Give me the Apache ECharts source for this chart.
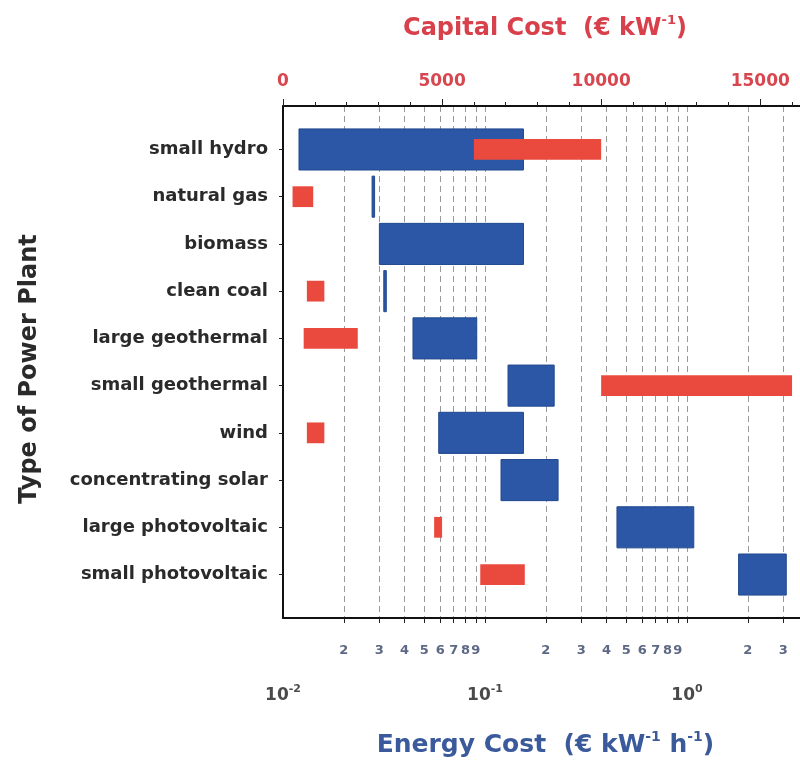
<!DOCTYPE html>
<html>
<head>
<meta charset="utf-8">
<script src="https://cdn.jsdelivr.net/npm/echarts@6/dist/echarts.min.js"></script>
<style>
  html, body { margin: 0; padding: 0; background: #ffffff; }
  #chart { width: 800px; height: 762px; }
</style>
</head>
<body>
<div id="chart"></div>
<script>
// Power plant types, top to bottom
const plants = [
  'small hydro', 'natural gas', 'biomass', 'clean coal', 'large geothermal',
  'small geothermal', 'wind', 'concentrating solar', 'large photovoltaic', 'small photovoltaic'
];

// Energy cost range (€ kW^-1 h^-1), log scale, bottom axis
const energyLow  = [0.012, 0.028, 0.030, 0.032, 0.044, 0.13, 0.059, 0.12, 0.45, 1.8];
const energyHigh = [0.155, 0.028, 0.155, 0.032, 0.091, 0.22, 0.155, 0.23, 1.08, 3.1];

// Capital cost range (€ kW^-1), linear scale, top axis (null = not given)
const capitalLow  = [6000, 300, null, 750, 650, 10000, 750, null, 4750, 6200];
const capitalHigh = [10000, 950, null, 1300, 2350, 16000, 1300, null, 5000, 7600];

// Bottom axis tick positions and labels
const energyTicks = [0.02, 0.03, 0.04, 0.05, 0.06, 0.07, 0.08, 0.09, 0.1,
                     0.2, 0.3, 0.4, 0.5, 0.6, 0.7, 0.8, 0.9, 1, 2, 3];
const energyDigitLabels = [0.02, 0.03, 0.04, 0.05, 0.06, 0.07, 0.08, 0.09,
                           0.2, 0.3, 0.4, 0.5, 0.6, 0.7, 0.8, 0.9, 2, 3];
const energyDecades = [0.01, 0.1, 1];
const rowPositions = [1, 2, 3, 4, 5, 6, 7, 8, 9, 10];

const FONT = 'DejaVu Sans';
const BLUE = '#2b57a6';
const RED = '#ea4a3e';

function leadingDigit(v) {
  const p = Math.pow(10, Math.floor(Math.log10(v) + 1e-9));
  return String(Math.round(v / p));
}

function rangeSeries(name, lows, highs, xAxisIndex, heightFrac, fill, stroke) {
  const data = [];
  lows.forEach((lo, i) => { if (lo != null) data.push([lo, highs[i], i + 1]); });
  return {
    name: name,
    type: 'custom',
    xAxisIndex: xAxisIndex,
    yAxisIndex: 0,
    data: data,
    clip: true,
    encode: { x: [0, 1], y: 2 },
    renderItem: function (params, api) {
      const a = api.coord([api.value(0), api.value(2)]);
      const b = api.coord([api.value(1), api.value(2)]);
      const h = api.size([0, 1], [api.value(0), api.value(2)])[1] * heightFrac;
      let x = a[0];
      let w = b[0] - a[0];
      if (w < 2.5) { x -= 1.25; w = 2.5; }
      return {
        type: 'rect',
        shape: { x: x, y: a[1] - h / 2, width: w, height: h },
        style: { fill: fill, stroke: stroke || null, lineWidth: stroke ? 1 : 0 }
      };
    }
  };
}

const chart = echarts.init(document.getElementById('chart'), null, { renderer: 'canvas' });

const option = {
  animation: false,
  backgroundColor: '#ffffff',
  grid: {
    left: 283, right: 0, top: 106, bottom: 144,
    containLabel: false, outerBoundsMode: 'none'
  },
  xAxis: [
    {
      // energy cost: ticks 2..9 per decade, dashed grid
      type: 'log', logBase: 10, position: 'bottom',
      min: 0.01, max: 3.625,
      axisLine: { show: true, lineStyle: { color: '#111', width: 2 } },
      axisTick: { show: true, customValues: energyTicks, length: 5, lineStyle: { color: '#222', width: 1 } },
      axisLabel: {
        customValues: energyDigitLabels,
        formatter: leadingDigit,
        margin: 26,
        color: '#5c6884', fontFamily: FONT, fontWeight: 'bold', fontSize: 13
      },
      splitLine: { show: true, lineStyle: { color: '#9a9a9a', width: 1, type: [6, 4] } },
      minorTick: { show: false }, minorSplitLine: { show: false }
    },
    {
      // energy cost: decade labels and axis title
      type: 'log', logBase: 10, position: 'bottom',
      min: 0.01, max: 3.625,
      axisLine: { show: false },
      axisTick: { show: false },
      splitLine: { show: false },
      axisLabel: {
        customValues: energyDecades,
        margin: 66,
        formatter: function (v) {
          return '{b|10}{s|' + Math.round(Math.log10(v)) + '}';
        },
        rich: {
          b: { fontFamily: FONT, fontWeight: 'bold', fontSize: 17, color: '#4a4a4a', lineHeight: 24, verticalAlign: 'middle' },
          s: { fontFamily: FONT, fontWeight: 'bold', fontSize: 11, color: '#4a4a4a', lineHeight: 12, verticalAlign: 'top' }
        }
      },
      name: '{t|Energy Cost  (€ kW}{s|-1}{t| h}{s|-1}{t|)}',
      nameLocation: 'middle',
      nameGap: 112,
      nameMoveOverlap: false,
      nameTextStyle: {
        padding: [0, 0, 0, 8],
        rich: {
          t: { fontFamily: FONT, fontWeight: 'bold', fontSize: 25, color: '#3b5a9c', lineHeight: 30, verticalAlign: 'middle' },
          s: { fontFamily: FONT, fontWeight: 'bold', fontSize: 14, color: '#3b5a9c', lineHeight: 14, verticalAlign: 'top' }
        }
      }
    },
    {
      // capital cost: linear, top
      type: 'value', position: 'top',
      min: 0, max: 16250, interval: 5000,
      axisLine: { show: true, lineStyle: { color: '#111', width: 2 } },
      axisTick: { show: true, length: 7, lineStyle: { color: '#222', width: 1 } },
      minorTick: { show: true, splitNumber: 5, length: 4, lineStyle: { color: '#222', width: 1 } },
      splitLine: { show: false },
      minorSplitLine: { show: false },
      axisLabel: {
        margin: 16, showMaxLabel: false,
        formatter: function (v) { return String(v); },
        color: '#d8464f', fontFamily: FONT, fontWeight: 'bold', fontSize: 17
      },
      name: '{t|Capital Cost  (€ kW}{s|-1}{t|)}',
      nameLocation: 'middle',
      nameGap: 62,
      nameMoveOverlap: false,
      nameTextStyle: {
        padding: [0, 0, 0, 7],
        rich: {
          t: { fontFamily: FONT, fontWeight: 'bold', fontSize: 24, color: '#d8404b', lineHeight: 30, verticalAlign: 'middle' },
          s: { fontFamily: FONT, fontWeight: 'bold', fontSize: 13, color: '#d8404b', lineHeight: 14, verticalAlign: 'top' }
        }
      }
    }
  ],
  yAxis: [
    {
      type: 'value', inverse: true,
      min: 0.08, max: 10.92,
      axisLine: { show: true, lineStyle: { color: '#111', width: 2 } },
      axisTick: { show: true, customValues: rowPositions, length: 4, lineStyle: { color: '#222' } },
      axisLabel: {
        customValues: rowPositions,
        formatter: function (v) { return plants[Math.round(v) - 1] || ''; },
        margin: 15,
        color: '#2a2a2a', fontFamily: FONT, fontWeight: 'bold', fontSize: 18
      },
      splitLine: { show: false },
      name: 'Type of Power Plant',
      nameLocation: 'middle',
      nameRotate: 90,
      nameGap: 241,
      nameMoveOverlap: false,
      nameTextStyle: {
        fontFamily: FONT, fontWeight: 'bold', fontSize: 24, color: '#2a2a2a',
        padding: [0, 14, 0, 0]
      }
    }
  ],
  series: [
    rangeSeries('Energy Cost', energyLow, energyHigh, 0, 0.87, BLUE, '#21498f'),
    rangeSeries('Capital Cost', capitalLow, capitalHigh, 2, 0.44, RED, null)
  ]
};

chart.setOption(option);
</script>
</body>
</html>
